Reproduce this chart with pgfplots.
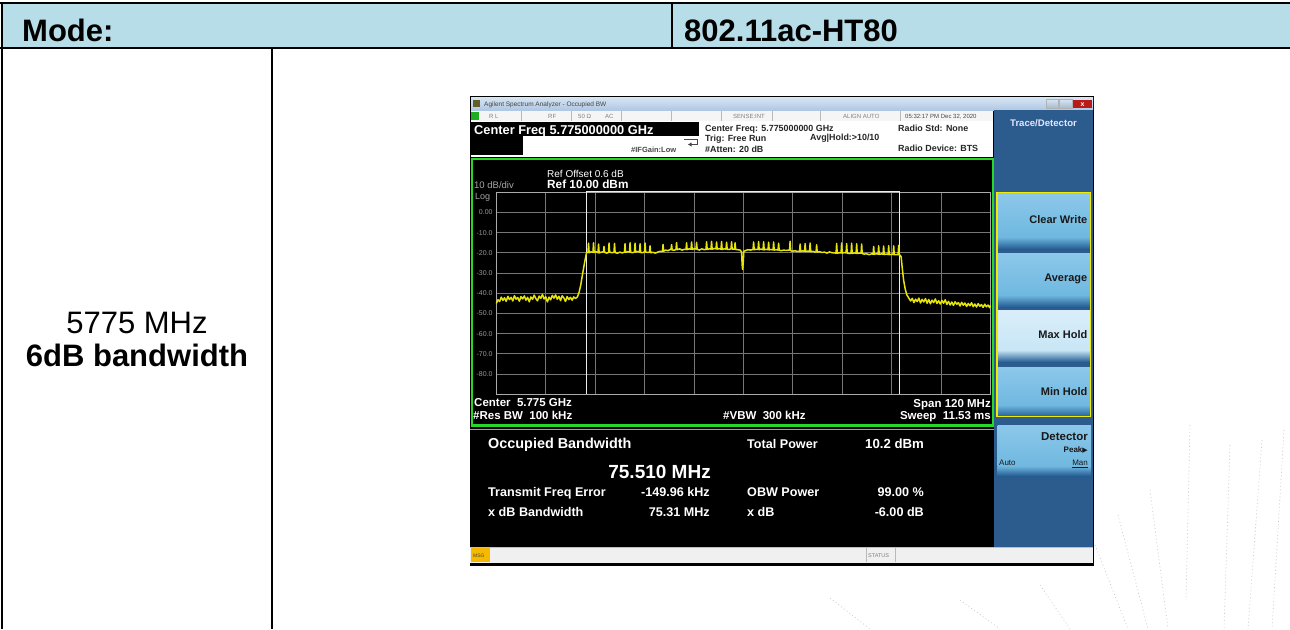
\documentclass[border=0pt]{standalone}
\usepackage{pgfplots}
\pgfplotsset{compat=1.18}
\usepackage{fontspec}
\setmainfont{Liberation Sans}
\newfontfamily\dejavu{DejaVu Sans}
\newcommand{\fs}[1]{\fontsize{#1}{#1}\selectfont}
\definecolor{hdr}{RGB}{183,221,232}
\definecolor{trace}{RGB}{230,228,10}
\definecolor{panel}{RGB}{44,92,142}
\definecolor{btn}{RGB}{112,184,224}
\definecolor{btntop}{RGB}{140,200,234}
\definecolor{btnlight}{RGB}{200,230,246}
\definecolor{btnlighttop}{RGB}{218,238,250}
\definecolor{btndark}{RGB}{36,92,146}
\definecolor{scrgreen}{RGB}{40,215,40}
\definecolor{msgc}{RGB}{245,185,0}
\definecolor{tbA}{RGB}{214,228,242}
\definecolor{tbB}{RGB}{176,200,228}
\definecolor{ybox}{RGB}{240,235,0}
\definecolor{dgray}{RGB}{70,70,70}
\definecolor{gridc}{RGB}{118,118,118}
\definecolor{framec}{RGB}{170,170,170}
\tikzset{tl/.style={inner sep=0pt, anchor=base west},
         tr/.style={inner sep=0pt, anchor=base east},
         tc/.style={inner sep=0pt, anchor=base}}
\begin{document}
\begin{tikzpicture}
\useasboundingbox (0,0) rectangle (1290pt,-629pt);
\fill[white] (0,0) rectangle (1290pt,-629pt);
\begin{scope}[x=1pt,y=-1pt]
% ---------- table ----------
\fill[hdr] (2,3) rectangle (1290,48);
\draw[line width=2pt] (0,3) -- (1290,3);
\draw[line width=2pt] (0,48) -- (1290,48);
\draw[line width=2pt] (2,2) -- (2,629);
\draw[line width=1.6pt] (672,3) -- (672,48);
\draw[line width=1.6pt] (272,48) -- (272,629);
\node[tl, font={\fs{31}\bfseries}] at (22,41) {Mode:};
\node[tl, font={\fs{31}\bfseries}] at (684,41) {802.11ac-HT80};
\node[tc, font={\fs{31}}] at (137,333) {5775 MHz};
\node[tc, font={\fs{31}\bfseries}] at (137,366) {6dB bandwidth};
% ---------- faint decoration ----------
\begin{scope}[gray!45, line width=0.6pt, dash pattern=on 1pt off 2.5pt]
\draw (1190,425) -- (1186,600);
\draw (1230,445) -- (1224,629);
\draw (1262,440) -- (1248,629);
\draw (1284,430) -- (1272,629);
\draw (1150,490) -- (1168,629);
\draw (1118,515) -- (1148,629);
\draw (1095,545) -- (1128,629);
\draw (1040,585) -- (1070,629);
\draw (960,600) -- (1000,629);
\draw (830,598) -- (870,629);
\end{scope}
% ---------- window ----------
\fill[black] (470,96) rectangle (1094,566);
\shade[top color=tbA, bottom color=tbB] (471,97.5) rectangle (1093,110);
\fill[olive!60!black] (473,100) rectangle (480,107);
\node[tl, font={\fs{6.5}}, text=dgray] at (484,106.3) {Agilent Spectrum Analyzer - Occupied BW};
\shade[top color=tbA, bottom color=tbB!80!gray, draw=gray!60] (1046,99.5) rectangle (1058.5,108);
\shade[top color=tbA, bottom color=tbB!80!gray, draw=gray!60] (1059.5,99.5) rectangle (1072,108);
\fill[red!70!black!90] (1073,99.5) rectangle (1092,108);
\node[tc, font={\fs{7}\bfseries}, text=white] at (1082.5,106.5) {x};
% status row
\fill[gray!8] (471,110.5) rectangle (993,121);
\foreach \x in {521,571,621,671,721,772,820,900} \draw[gray!55, line width=0.6pt] (\x,111) -- (\x,121);
\fill[scrgreen!80!black] (471,111.5) rectangle (479,120);
\begin{scope}[every node/.style={tl, font={\fs{6}}, text=gray}]
\node at (489,118.2) {R L};
\node at (548,118.2) {RF};
\node at (578,118.2) {50 Ω};
\node at (605,118.2) {AC};
\node at (733,118.2) {SENSE:INT};
\node at (843,118.2) {ALIGN AUTO};
\node[text=dgray] at (905,118.2) {05:32:17 PM Dec 32, 2020};
\end{scope}
% info area
\fill[white] (471,121) rectangle (993,157);
\fill[black] (470,122) rectangle (699,136);
\fill[black] (470,136) rectangle (523,155);
\node[tl, font={\fs{12.8}\bfseries}, text=white] at (474,134.4) {Center Freq 5.775000000 GHz};
\node[tl, font={\fs{7.5}\bfseries}, text=dgray] at (631,152.6) {\#IFGain:Low};
\draw[line width=0.9pt, dgray] (684,139) -- (697,139) -- (697,144.5) -- (691,144.5);
\fill[dgray] (688,144.5) -- (691.5,142.5) -- (691.5,146.5) -- cycle;
\begin{scope}[every node/.style={tl, font={\fs{8.9}\bfseries}, text=black!85}]
\node at (705,131.5) {Center Freq: 5.775000000 GHz};
\node at (705,141.5) {Trig: Free Run};
\node at (810,140.9) {Avg|Hold:>10/10};
\node at (705,152.5) {\#Atten: 20 dB};
\node at (898,131.5) {Radio Std: None};
\node at (898,151.5) {Radio Device: BTS};
\end{scope}
% display
\draw[scrgreen, line width=2.2pt] (472,158.6) rectangle (993,425.4);
\node[tl, font={\fs{10}}, text=white] at (547,177.6) {Ref Offset 0.6 dB};
\node[tl, font={\fs{11.8}\bfseries}, text=white] at (547,188.6) {Ref 10.00 dBm};
\node[tl, font={\fs{9.5}}, text=gray!70] at (474,188.4) {10 dB/div};
\node[tl, font={\fs{9}}, text=gray!70] at (475,199.3) {Log};
\begin{scope}[every node/.style={font={\fs{11.5}\bfseries}, text=white}]
\node[tl] at (474,406.5) {Center\ \ 5.775 GHz};
\node[tl] at (473,419) {\#Res BW\ \ 100 kHz};
\node[tl] at (723,419) {\#VBW\ \ 300 kHz};
\node[tr] at (991,407.3) {Span 120 MHz};
\node[tr] at (991,419.6) {Sweep\ \ 11.53 ms};
\end{scope}
\draw[gray!75, line width=1.6pt] (470,429.5) -- (994,429.5);
% measurements
\node[tl, font={\fs{14.4}\bfseries}, text=white] at (488,448.6) {Occupied Bandwidth};
\node[tr, font={\fs{19}\bfseries}, text=white] at (711,478.6) {75.510 MHz};
\begin{scope}[every node/.style={font={\fs{12.6}\bfseries}, text=white}]
\node[tl] at (488,496.2) {Transmit Freq Error};
\node[tr] at (710,496.2) {-149.96 kHz};
\node[tl] at (488,516.2) {x dB Bandwidth};
\node[tr] at (710,516.2) {75.31 MHz};
\node[tl] at (747,448) {Total Power};
\node[tl, font={\fs{13.2}\bfseries}] at (865,448) {10.2 dBm};
\node[tl] at (747,496.2) {OBW Power};
\node[tr] at (924,496.2) {99.00 \%};
\node[tl] at (747,516.7) {x dB};
\node[tr] at (924,516.7) {-6.00 dB};
\end{scope}
% status bar
\fill[gray!12] (470,546.5) rectangle (1093,563);
\draw[gray!50, line width=0.6pt] (470,547) -- (1093,547);
\fill[msgc] (471,547.5) rectangle (490,562);
\node[tl, font={\fs{5}}, text=dgray] at (473,557) {MSG};
\draw[gray!55, line width=0.6pt] (866,548) -- (866,562) (895,548) -- (895,562);
\node[tl, font={\fs{5.5}}, text=gray] at (868,557.2) {STATUS};
% right panel
\fill[panel] (994,110) rectangle (1093,546.5);
\node[tc, font={\fs{9.6}\bfseries}, text=white!90!blue] at (1043.5,126.8) {Trace/Detector};
\foreach \a/\b in {193/245, 253/303, 367/413}{
  \shade[top color=btntop, bottom color=btn] (997.5,\a) rectangle (1090,\b-8);
  \shade[top color=btn, bottom color=btndark] (997.5,\b-8) rectangle (1090,\b+4);
}
\shade[top color=btnlighttop, bottom color=btnlight] (997.5,310) rectangle (1090,350);
\shade[top color=btnlight, bottom color=btndark] (997.5,350) rectangle (1090,362);
\draw[ybox, line width=1.3pt] (997,192.5) rectangle (1090.5,416.5);
\begin{scope}[every node/.style={tr, font={\fs{11}\bfseries}, text=black!90}]
\node at (1087.5,223.3) {Clear Write};
\node at (1087.5,281.3) {Average};
\node at (1087.5,338) {Max Hold};
\node at (1087.5,395.7) {Min Hold};
\end{scope}
\shade[top color=btntop, bottom color=btn] (997.5,425) rectangle (1091,466);
\shade[top color=btn, bottom color=btndark] (997.5,466) rectangle (1091,476);
\node[tr, font={\fs{11.5}\bfseries}, text=black!90] at (1088,440.8) {Detector};
\node[tr, font={\fs{8}\bfseries}, text=black!90] at (1088,452.2) {Peak{\dejavu\fs{7}▶}};
\node[tl, font={\fs{8}}, text=black!90] at (999,465.5) {Auto};
\node[tr, font={\fs{8}}, text=black!90] at (1088,465.5) {\underline{Man}};
\end{scope}
% ---------- spectrum trace ----------
\begin{axis}[at={(496.3pt,-192.3pt)}, anchor=north west, scale only axis,
  width=494.2pt, height=202pt,
  xmin=-60, xmax=60, ymin=-90, ymax=10,
  xtick={-48,-36,-24,-12,0,12,24,36,48}, xticklabels={},
  ytick={-80,-70,-60,-50,-40,-30,-20,-10,0},
  yticklabels={-80.0,-70.0,-60.0,-50.0,-40.0,-30.0,-20.0,-10.0,0.00},
  grid=major, major grid style={draw=gridc, line width=0.9pt},
  major tick length=0pt, tick style={draw=none},
  axis line style={draw=framec, line width=1.3pt},
  yticklabel style={font=\fs{7}, text=gray!80, inner sep=0pt, xshift=-3.5pt},
  clip=false]
\addplot[white!85!gray, line width=1pt] coordinates {(-38.14,10.6) (-38.14,-90)};
\addplot[white!85!gray, line width=1pt] coordinates {(37.89,10.6) (37.89,-90)};
\addplot[white!85!gray, line width=1pt] coordinates {(-38.14,10.6) (37.89,10.6)};
\addplot[trace, line width=1.5pt, line join=round] coordinates {
(-60,-45.0) (-59.6,-43.2) (-59.2,-44.1) (-58.8,-41.9) (-58.4,-43.5) (-58.0,-42.2) (-57.6,-44.0) (-57.2,-41.5) (-56.8,-43.1) (-56.4,-42.0) (-56.0,-43.8) (-55.6,-41.2) (-55.2,-42.9) (-54.8,-42.1) (-54.4,-43.9) (-54.0,-41.6) (-53.6,-42.8) (-53.2,-41.3) (-52.8,-43.4) (-52.4,-42.0) (-52.0,-44.2) (-51.6,-41.8) (-51.2,-43.0) (-50.8,-40.9) (-50.4,-42.6) (-50.0,-43.7) (-49.6,-41.4) (-49.2,-42.5) (-48.8,-40.6) (-48.4,-42.8) (-48.0,-41.7) (-47.6,-44.3) (-47.2,-41.9) (-46.8,-43.2) (-46.4,-41.0) (-46.0,-42.4) (-45.6,-40.8) (-45.2,-42.9) (-44.8,-41.5) (-44.4,-43.6) (-44.0,-41.2) (-43.6,-42.3) (-43.2,-44.0) (-42.8,-41.6) (-42.4,-43.1) (-42.0,-42.0) (-41.6,-43.4) (-41.2,-41.8) (-40.8,-42.6)
(-40.3,-41.8) (-39.9,-39.5) (-39.5,-36.0) (-39.1,-31.0) (-38.8,-27.5) (-38.4,-23.0) (-38.1,-20.0) (-37.9,-19.6)
(-37.74,-19.8) (-37.60,-15.2) (-37.46,-19.9) (-37.0,-19.5)
(-36.53,-19.7) (-36.39,-15.0) (-36.25,-19.8) (-35.8,-19.4)
(-35.31,-19.9) (-35.17,-15.6) (-35.03,-20.0) (-34.5,-19.6)
(-33.98,-19.5) (-33.84,-16.8) (-33.70,-19.7) (-33.2,-20.1)
(-32.76,-19.8) (-32.62,-15.1) (-32.48,-19.6) (-32.0,-19.9)
(-31.43,-19.7) (-31.29,-15.3) (-31.15,-19.8) (-30.6,-20.2) (-30.0,-19.6) (-29.4,-20.0)
(-28.88,-19.6) (-28.74,-15.4) (-28.60,-19.8) (-28.1,-19.4)
(-27.66,-19.6) (-27.52,-15.0) (-27.38,-19.7) (-26.9,-19.9)
(-26.45,-19.5) (-26.31,-15.2) (-26.17,-19.6) (-25.7,-19.3)
(-25.23,-19.6) (-25.09,-15.5) (-24.95,-19.8) (-24.5,-19.9)
(-24.02,-19.5) (-23.88,-15.1) (-23.74,-19.6) (-23.3,-19.8)
(-22.81,-19.6) (-22.67,-16.5) (-22.53,-19.9) (-22.0,-19.7) (-21.4,-20.1) (-20.8,-19.6) (-20.2,-19.2)
(-19.65,-19.3) (-19.51,-15.8) (-19.37,-19.2) (-18.9,-18.6) (-18.3,-18.9) (-17.8,-18.3)
(-17.58,-18.4) (-17.44,-15.9) (-17.30,-18.5) (-16.8,-18.7)
(-16.37,-18.3) (-16.23,-14.9) (-16.09,-18.4) (-15.5,-18.0) (-14.9,-18.6) (-14.3,-18.2)
(-13.94,-18.3) (-13.80,-15.0) (-13.66,-18.4) (-13.2,-18.0)
(-12.72,-18.2) (-12.58,-14.6) (-12.44,-18.3) (-11.9,-17.9)
(-11.51,-18.1) (-11.37,-14.8) (-11.23,-18.2) (-10.7,-18.6) (-10.1,-18.0) (-9.5,-18.4)
(-9.08,-18.2) (-8.94,-14.5) (-8.80,-18.3) (-8.3,-18.0)
(-7.87,-18.1) (-7.73,-14.3) (-7.59,-18.2) (-7.1,-17.8)
(-6.65,-18.0) (-6.51,-14.6) (-6.37,-18.1) (-5.9,-17.9)
(-5.44,-18.2) (-5.30,-14.4) (-5.16,-18.3) (-4.7,-18.0)
(-4.22,-18.1) (-4.08,-14.7) (-3.94,-18.2) (-3.5,-18.3)
(-3.01,-18.0) (-2.87,-14.5) (-2.73,-18.1)
(-2.16,-18.2) (-2.02,-15.0) (-1.88,-18.3) (-1.4,-18.4) (-0.8,-18.6)
(-0.45,-19.5) (-0.30,-26.0) (-0.20,-28.2) (-0.05,-25.0) (0.1,-19.2)
(0.6,-18.8) (1.1,-18.4) (1.7,-18.6)
(2.34,-18.3) (2.48,-14.6) (2.62,-18.4) (3.1,-18.2)
(3.55,-18.3) (3.69,-14.4) (3.83,-18.4) (4.3,-18.1)
(4.77,-18.4) (4.91,-14.5) (5.05,-18.5) (5.5,-18.2)
(5.98,-18.4) (6.12,-14.7) (6.26,-18.5) (6.7,-18.3)
(7.20,-18.5) (7.34,-14.6) (7.48,-18.6) (7.9,-18.4)
(8.41,-18.6) (8.55,-15.2) (8.69,-18.7) (9.2,-18.9) (9.8,-18.6) (10.4,-18.8) (11.0,-18.6)
(11.20,-18.7) (11.34,-14.2) (11.48,-18.9) (11.9,-19.2) (12.5,-18.9) (13.1,-19.3)
(13.63,-19.2) (13.77,-15.6) (13.91,-19.3) (14.4,-19.0)
(14.85,-19.2) (14.99,-15.4) (15.13,-19.3) (15.6,-19.1)
(16.06,-19.3) (16.20,-15.1) (16.34,-19.4) (16.9,-19.2) (17.4,-19.6)
(17.64,-19.5) (17.78,-16.0) (17.92,-19.6) (18.5,-19.4) (19.1,-19.8) (19.7,-19.6) (20.3,-20.1) (20.9,-19.5) (21.5,-19.9) (22.1,-20.0)
(22.50,-20.1) (22.64,-15.3) (22.78,-20.2) (23.3,-19.9)
(23.71,-20.0) (23.85,-15.1) (23.99,-20.1) (24.5,-19.8)
(24.93,-20.0) (25.07,-15.4) (25.21,-20.1) (25.7,-20.3)
(26.14,-20.2) (26.28,-15.2) (26.42,-20.3) (26.9,-20.0)
(27.36,-20.2) (27.50,-15.5) (27.64,-20.3) (28.1,-20.1)
(28.57,-20.2) (28.71,-15.6) (28.85,-20.3) (29.3,-20.6) (29.9,-20.4) (30.5,-20.9) (31.1,-20.5)
(31.49,-20.6) (31.63,-16.8) (31.77,-20.7) (32.3,-20.4)
(32.70,-20.6) (32.84,-16.5) (32.98,-20.7) (33.5,-20.5)
(33.91,-20.7) (34.05,-16.6) (34.19,-20.8) (34.7,-20.6)
(35.13,-20.8) (35.27,-16.4) (35.41,-20.9) (35.9,-20.7)
(36.35,-20.8) (36.49,-16.5) (36.63,-20.9) (37.1,-20.8)
(37.56,-20.9) (37.70,-16.3) (37.84,-21.0) (38.1,-21.2)
(38.3,-22.0) (38.6,-28.0) (38.9,-33.5) (39.3,-38.0) (39.7,-40.8) (40.2,-42.5)
(40.6,-43.8) (41.0,-42.5) (41.4,-44.6) (41.8,-42.9) (42.2,-44.1) (42.6,-42.4) (43.0,-44.8) (43.4,-43.0) (43.8,-44.3) (44.2,-42.6) (44.6,-44.9) (45.0,-43.1) (45.4,-45.2) (45.8,-43.4) (46.2,-44.6) (46.6,-42.8) (47.0,-45.0) (47.4,-43.7) (47.8,-45.3) (48.2,-43.5) (48.6,-44.9) (49.0,-43.2) (49.4,-45.5) (49.8,-44.0) (50.2,-45.8) (50.6,-44.3) (51.0,-46.0) (51.4,-44.2) (51.8,-45.4) (52.2,-44.6) (52.6,-46.3) (53.0,-44.5) (53.4,-45.9) (53.8,-44.8) (54.2,-46.5) (54.6,-45.0) (55.0,-46.2) (55.4,-44.7) (55.8,-46.6) (56.2,-45.3) (56.6,-46.8) (57.0,-45.1) (57.4,-46.4) (57.8,-45.6) (58.2,-47.0) (58.6,-45.4) (59.0,-46.7) (59.4,-45.8) (59.8,-47.1) (60.0,-46.0)
};
\end{axis}
\end{tikzpicture}
\end{document}
